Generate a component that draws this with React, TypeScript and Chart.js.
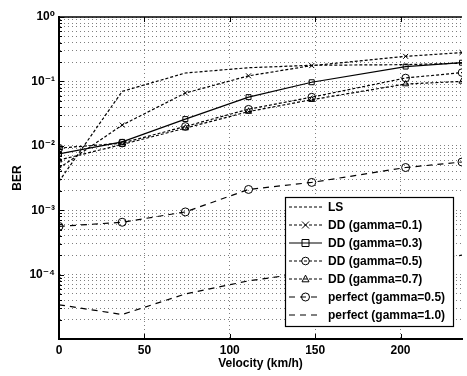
import React, { useEffect, useRef } from "react";
import { Chart, registerables } from "chart.js";

Chart.register(...registerables);

// ---- data ----
const velocities = [0, 37, 74, 111, 148, 203, 236];
const berLS = [0.0028, 0.07, 0.135, 0.163, 0.178, 0.182, 0.192];
const berDD01 = [0.0045, 0.021, 0.066, 0.122, 0.176, 0.245, 0.28];
const berDD03 = [0.0075, 0.0115, 0.026, 0.057, 0.097, 0.17, 0.195];
const berDD05 = [0.0092, 0.011, 0.02, 0.037, 0.057, 0.113, 0.137];
const berDD07 = [0.006, 0.0105, 0.0188, 0.034, 0.052, 0.091, 0.1];
const berPerfect05 = [0.00056, 0.00065, 0.00094, 0.0021, 0.0027, 0.0046, 0.0056];
const berPerfect10 = [0.000034, 0.000024, 0.00005, 0.00008, 0.00011, 0.00016, 0.0002];

const seriesLabels = [
  "LS",
  "DD (gamma=0.1)",
  "DD (gamma=0.3)",
  "DD (gamma=0.5)",
  "DD (gamma=0.7)",
  "perfect (gamma=0.5)",
  "perfect (gamma=1.0)",
];

const xTickValues = [0, 50, 100, 150, 200];
const yMinExp = -5;
const yMaxExp = 0;
const yLabelledExps = [0, -1, -2, -3, -4];
const xAxisTitle = "Velocity (km/h)";
const yAxisTitle = "BER";

const FONT = '"Liberation Sans", Arial, "DejaVu Sans", sans-serif';

const supMap: Record<string, string> = {
  "-": "\u207B",
  "0": "\u2070",
  "1": "\u00B9",
  "2": "\u00B2",
  "3": "\u00B3",
  "4": "\u2074",
  "5": "\u2075",
};
const powLabel = (e: number) =>
  "10" + String(e).split("").map((c) => supMap[c] || c).join("");

const isPow10 = (v: number) => {
  const l = Math.log10(v);
  return Math.abs(l - Math.round(l)) < 1e-9;
};

function buildLogTicks() {
  const out: { value: number }[] = [];
  for (let e = yMinExp; e < yMaxExp; e++) {
    for (let m = 1; m <= 9; m++) out.push({ value: parseFloat((m * Math.pow(10, e)).toPrecision(6)) });
  }
  out.push({ value: Math.pow(10, yMaxExp) });
  return out;
}

function drawMarker(ctx: CanvasRenderingContext2D, style: string, x: number, y: number, r: number) {
  ctx.beginPath();
  if (style === "circle") {
    ctx.arc(x, y, r, 0, Math.PI * 2);
  } else if (style === "rect") {
    ctx.rect(x - r, y - r, 2 * r, 2 * r);
  } else if (style === "triangle") {
    ctx.moveTo(x, y - r * 1.1);
    ctx.lineTo(x + r, y + r * 0.8);
    ctx.lineTo(x - r, y + r * 0.8);
    ctx.closePath();
  } else if (style === "crossRot") {
    ctx.moveTo(x - r, y - r);
    ctx.lineTo(x + r, y + r);
    ctx.moveTo(x + r, y - r);
    ctx.lineTo(x - r, y + r);
  }
  ctx.stroke();
}

const framePlugin = {
  id: "matlabFrame",
  beforeDatasetsDraw(chart: any) {
    const { ctx, chartArea: a } = chart;
    ctx.save();
    ctx.strokeStyle = "#000";
    ctx.lineWidth = 1.6;
    ctx.beginPath();
    ctx.moveTo(a.left, a.top);
    ctx.lineTo(a.right, a.top);
    ctx.stroke();
    ctx.lineWidth = 1;
    const ys = chart.scales.y;
    ys.ticks.forEach((t: any) => {
      const p = Math.round(ys.getPixelForValue(t.value)) + 0.5;
      const len = isPow10(t.value) ? 5 : 3;
      ctx.beginPath();
      ctx.moveTo(a.left, p);
      ctx.lineTo(a.left + len, p);
      ctx.stroke();
    });
    const xs = chart.scales.x;
    xs.ticks.forEach((t: any) => {
      const p = Math.round(xs.getPixelForValue(t.value)) + 0.5;
      ctx.beginPath();
      ctx.moveTo(p, a.bottom);
      ctx.lineTo(p, a.bottom - 5);
      ctx.moveTo(p, a.top);
      ctx.lineTo(p, a.top + 5);
      ctx.stroke();
    });
    ctx.restore();
  },
};

const legendPlugin = {
  id: "boxLegend",
  afterDatasetsDraw(chart: any) {
    const { ctx, chartArea: a } = chart;
    const left = a.left + 226;
    const top = a.top + 180;
    const w = 168;
    const h = 129;
    ctx.save();
    ctx.fillStyle = "#fff";
    ctx.fillRect(left, top, w, h);
    ctx.strokeStyle = "#000";
    ctx.lineWidth = 1.2;
    ctx.strokeRect(left + 0.5, top + 0.5, w, h);
    chart.data.datasets.forEach((ds: any, i: number) => {
      const y = top + 10 + i * 18;
      const x1 = left + 4;
      const x2 = left + 37;
      const xm = (x1 + x2) / 2;
      ctx.strokeStyle = "#000";
      ctx.lineWidth = ds.borderWidth;
      ctx.setLineDash(ds.borderDash || []);
      ctx.beginPath();
      ctx.moveTo(x1, y);
      ctx.lineTo(x2, y);
      ctx.stroke();
      ctx.setLineDash([]);
      if (ds.pointRadius > 0) {
        ctx.lineWidth = 1;
        drawMarker(ctx, ds.pointStyle, xm, y, ds.pointRadius);
      }
      ctx.fillStyle = "#000";
      ctx.font = `bold 12px ${FONT}`;
      ctx.textBaseline = "middle";
      ctx.textAlign = "left";
      ctx.fillText(ds.label, left + 43, y + 0.5);
    });
    ctx.restore();
  },
};

function makeSeries(label: string, values: number[], dash: number[], style: string, radius: number) {
  return {
    label,
    data: velocities.map((v, i) => ({ x: v, y: values[i] })),
    borderColor: "#000",
    borderWidth: 1.2,
    borderDash: dash,
    pointStyle: style,
    pointRadius: radius,
    pointBorderWidth: 1,
    pointBorderColor: "#000",
    pointBackgroundColor: "rgba(0,0,0,0)",
    tension: 0,
    fill: false,
  };
}

export default function App() {
  const ref = useRef<HTMLCanvasElement | null>(null);

  useEffect(() => {
    if (!ref.current) return;
    const dotted = [3, 2];
    const dashed = [6, 5];
    const gridColor = "rgba(0,0,0,0.5)";
    const chart = new Chart(ref.current, {
      type: "line",
      data: {
        datasets: [
          makeSeries(seriesLabels[0], berLS, dotted, "circle", 0),
          makeSeries(seriesLabels[1], berDD01, dotted, "crossRot", 3.5),
          makeSeries(seriesLabels[2], berDD03, [], "rect", 3.5),
          makeSeries(seriesLabels[3], berDD05, dotted, "circle", 3.8),
          makeSeries(seriesLabels[4], berDD07, dotted, "triangle", 3.5),
          makeSeries(seriesLabels[5], berPerfect05, dashed, "circle", 4),
          makeSeries(seriesLabels[6], berPerfect10, dashed, "circle", 0),
        ] as any,
      },
      options: {
        animation: false,
        responsive: false,
        devicePixelRatio: 1,
        layout: { padding: { left: 10, top: 17, right: 1, bottom: 0 } },
        plugins: {
          legend: { display: false },
          tooltip: { enabled: false },
        },
        scales: {
          x: {
            type: "linear",
            min: 0,
            max: 236,
            afterBuildTicks: (s: any) => {
              s.ticks = xTickValues.map((v) => ({ value: v }));
            },
            afterFit: (s: any) => {
              s.height = 37;
            },
            ticks: {
              autoSkip: false,
              maxRotation: 0,
              padding: 4,
              color: "#000",
              font: { family: FONT, size: 12, weight: "bold" },
              callback: (v: any) => String(v),
            },
            grid: { color: gridColor, lineWidth: 1, drawTicks: false },
            border: { color: "#000", width: 2, dash: [1, 3] },
            title: {
              display: true,
              text: xAxisTitle,
              color: "#000",
              font: { family: FONT, size: 12, weight: "bold" },
              padding: { top: 0, bottom: 5 },
            },
          },
          y: {
            type: "logarithmic",
            min: Math.pow(10, yMinExp),
            max: Math.pow(10, yMaxExp),
            afterBuildTicks: (s: any) => {
              s.ticks = buildLogTicks();
            },
            afterFit: (s: any) => {
              s.width = 49;
            },
            ticks: {
              autoSkip: false,
              padding: 4,
              color: "#000",
              font: { family: FONT, size: 12, weight: "bold" },
              callback: (v: any) => {
                const n = Number(v);
                if (!isPow10(n)) return "";
                const e = Math.round(Math.log10(n));
                return yLabelledExps.includes(e) ? powLabel(e) : "";
              },
            },
            grid: { color: gridColor, lineWidth: 1, drawTicks: false },
            border: { color: "#000", width: 2, dash: [1, 3] },
            title: {
              display: true,
              text: yAxisTitle,
              color: "#000",
              font: { family: FONT, size: 12, weight: "bold" },
              padding: { top: 0, bottom: 0 },
            },
          },
        },
      },
      plugins: [framePlugin, legendPlugin],
    });
    return () => chart.destroy();
  }, []);

  return (
    <div style={{ position: "fixed", left: 0, top: 0, width: 467, height: 376, background: "#fff", overflow: "hidden" }}>
      <canvas ref={ref} width={467} height={376} style={{ display: "block" }} />
    </div>
  );
}
